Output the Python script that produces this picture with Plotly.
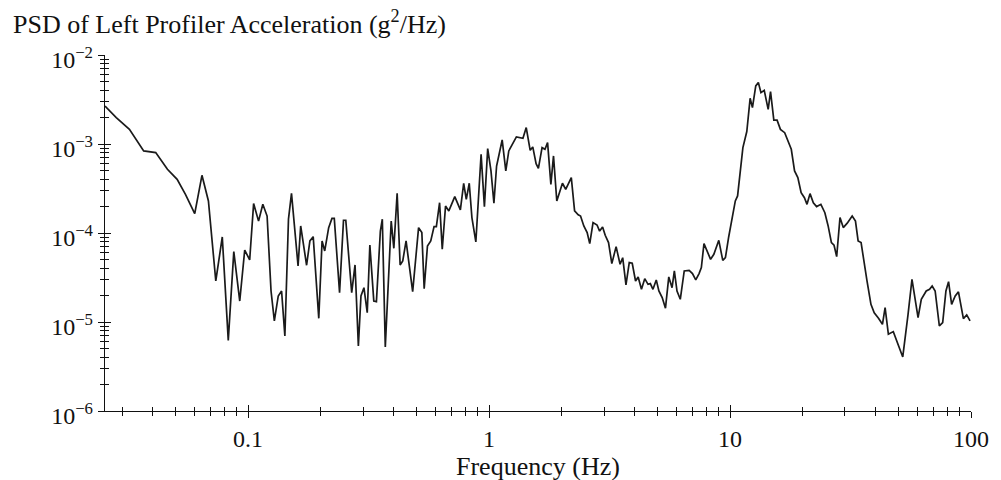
import math
import plotly.graph_objects as go

# ---- data ----
freq_hz = [
    0.0255, 0.0284, 0.0322, 0.0369, 0.0414, 0.0463, 0.0508, 0.0550, 0.0601, 0.0644,
    0.0685, 0.0735, 0.0782, 0.0828, 0.0873, 0.0924, 0.0969, 0.1016, 0.1055, 0.1106,
    0.1152, 0.1200, 0.1246, 0.1286, 0.1335, 0.1378, 0.1422, 0.1472, 0.1515, 0.1613,
    0.1654, 0.1750, 0.1806, 0.1864, 0.1966, 0.2029, 0.2081, 0.2161, 0.2230, 0.2280,
    0.2398, 0.2490, 0.2545, 0.2693, 0.2780, 0.2870, 0.2942, 0.3027, 0.3124, 0.3203,
    0.3326, 0.3410, 0.3541, 0.3608, 0.3712, 0.3928, 0.4028, 0.4157, 0.4278, 0.4386,
    0.4527, 0.4822, 0.5102, 0.5264, 0.5382, 0.5553, 0.5731, 0.5915, 0.6046, 0.6237,
    0.6397, 0.6601, 0.6812, 0.7210, 0.7606, 0.7851, 0.8048, 0.8279, 0.8492, 0.8817,
    0.9272, 0.9570, 0.9874, 1.019, 1.048, 1.075, 1.134, 1.174, 1.208, 1.299,
    1.383, 1.427, 1.482, 1.519, 1.568, 1.603, 1.660,
    1.707, 1.750, 1.806, 1.852, 1.911, 2.017, 2.081, 2.195, 2.265, 2.345,
    2.398, 2.474, 2.554, 2.618, 2.702, 2.807, 2.877, 2.960, 3.035, 3.133,
    3.233, 3.368, 3.498, 3.587, 3.701, 3.819, 3.929, 4.055, 4.158, 4.291,
    4.428, 4.569, 4.671, 4.789, 4.943, 5.069, 5.231, 5.398, 5.571, 5.749,
    5.876, 6.026, 6.218, 6.457, 6.769, 6.986, 7.209, 7.440, 7.605, 7.798,
    8.047, 8.306, 8.570, 8.985, 9.331, 9.570, 9.874, 10.19, 10.52, 10.75,
    11.02, 11.31, 11.74, 12.12, 12.39, 12.79, 13.11, 13.44, 13.87, 14.40,
    14.73, 15.20, 15.68, 16.19, 16.86, 17.40, 17.96, 18.53, 19.12, 19.73,
    20.36, 20.87, 21.48, 22.17, 22.87, 23.83, 24.75, 25.54, 26.35, 27.02,
    27.71, 28.60, 29.51, 30.65, 32.13, 33.16, 34.01, 34.99, 35.87, 37.02,
    38.44, 39.67, 41.32, 42.91, 44.01, 45.41, 47.60, 49.12, 52.1, 54.8,
    56.9, 60.3, 62.2, 65.2, 67.3, 69.0, 71.0, 73.9, 76.3, 78.7,
    80.7, 83.1, 86.0, 88.7, 93.0, 96.0, 99.1,
]

psd_g2_per_hz = [
    2.67e-3, 1.98e-3, 1.46e-3, 8.36e-4, 8.0e-4, 5.2e-4, 4.01e-4, 2.72e-4, 1.65e-4, 4.45e-4,
    2.29e-4, 2.89e-5, 9.02e-5, 6.22e-6, 6.18e-5, 1.72e-5, 6.44e-5, 4.98e-5, 2.14e-4, 1.36e-4,
    2.10e-4, 1.55e-4, 2.23e-5, 1.03e-5, 1.96e-5, 2.23e-5, 6.97e-6, 1.43e-4, 2.79e-4, 4.27e-5,
    1.20e-4, 4.34e-5, 8.14e-5, 9.1e-5, 1.10e-5, 8.14e-5, 6.28e-5, 1.15e-4, 1.46e-4, 1.46e-4,
    2.14e-5, 1.39e-4, 1.39e-4, 2.14e-5, 4.38e-5, 5.38e-6, 1.96e-5, 2.43e-5, 1.27e-5, 7.34e-5,
    1.72e-5, 1.69e-5, 1.05e-4, 1.43e-4, 5.24e-6, 1.36e-4, 6.73e-5, 2.79e-4, 4.38e-5, 4.85e-5,
    8.14e-5, 2.19e-5, 1.15e-4, 1.01e-4, 2.37e-5, 7.14e-5, 8.14e-5, 1.18e-4, 1.18e-4, 2.19e-4,
    6.56e-5, 2.01e-4, 1.77e-4, 2.56e-4, 1.82e-4, 3.62e-4, 2.39e-4, 3.62e-4, 1.49e-4, 7.93e-5,
    7.66e-4, 1.98e-4, 8.87e-4, 4.98e-4, 2.16e-4, 5.66e-4, 1.11e-3, 4.98e-4, 8.36e-4, 1.20e-3,
    1.16e-3, 1.53e-3, 8.49e-4, 9.27e-4, 6.02e-4, 5.33e-4, 9.1e-4,
    8.72e-4, 1.035e-3, 3.52e-4, 7.34e-4, 2.29e-4, 3.62e-4, 3.10e-4, 4.19e-4, 1.77e-4, 1.60e-4,
    1.55e-4, 1.20e-4, 1.01e-4, 7.6e-5, 1.31e-4, 1.23e-4, 1.05e-4, 1.17e-4, 9.42e-5, 7.8e-5,
    4.53e-5, 7.03e-5, 4.45e-5, 5.28e-5, 2.61e-5, 4.65e-5, 4.57e-5, 2.89e-5, 3.21e-5, 2.33e-5,
    3.07e-5, 2.65e-5, 2.70e-5, 2.33e-5, 2.97e-5, 2.23e-5, 1.88e-5, 1.43e-5, 3.21e-5, 2.43e-5,
    3.75e-5, 2.23e-5, 1.80e-5, 3.75e-5, 3.81e-5, 3.50e-5, 2.97e-5, 3.50e-5, 4.08e-5, 7.6e-5,
    6.28e-5, 5.06e-5, 5.77e-5, 8.28e-5, 4.93e-5, 5.28e-5, 9.02e-5, 1.49e-4, 2.29e-4, 2.61e-4,
    4.98e-4, 9.1e-4, 1.38e-3, 3.26e-3, 2.56e-3, 4.49e-3, 4.90e-3, 3.78e-3, 4.01e-3, 2.45e-3,
    3.87e-3, 1.85e-3, 1.85e-3, 1.46e-3, 1.34e-3, 1.08e-3, 8.72e-4, 4.98e-4, 4.19e-4, 2.84e-4,
    2.49e-4, 2.10e-4, 2.77e-4, 2.19e-4, 1.98e-4, 2.10e-4, 1.69e-4, 1.20e-4, 7.8e-5, 7.28e-5,
    5.43e-5, 1.49e-4, 1.15e-4, 1.29e-4, 1.55e-4, 1.36e-4, 8.14e-5, 7.8e-5, 5.28e-5, 2.89e-5,
    1.58e-5, 1.27e-5, 1.10e-5, 9.42e-6, 1.45e-5, 7.28e-6, 7.8e-6, 6.12e-6, 4.05e-6, 1.22e-5,
    3.02e-5, 1.12e-5, 1.80e-5, 2.23e-5, 2.33e-5, 2.54e-5, 2.23e-5, 9.03e-6, 9.84e-6, 2.23e-5,
    2.84e-5, 1.58e-5, 1.96e-5, 2.18e-5, 1.09e-5, 1.20e-5, 1.03e-5,
]

x_tick_vals = [0.1, 1, 10, 100]
x_tick_text = ["0.1", "1", "10", "100"]
y_tick_vals = [1e-6, 1e-5, 1e-4, 1e-3, 1e-2]
y_tick_text = ["10<sup>\u22126</sup>", "10<sup>\u22125</sup>", "10<sup>\u22124</sup>",
               "10<sup>\u22123</sup>", "10<sup>\u22122</sup>"]

title_text = "PSD of Left Profiler Acceleration (g<sup>2</sup>/Hz)"
x_title_text = "Frequency (Hz)"

x_min, x_max = 0.0255, 100
y_min, y_max = 1e-6, 1e-2

# minor tick positions (2..9 within each decade)
x_minor = [m * 10 ** e for e in range(-2, 2) for m in range(2, 10)
           if x_min <= m * 10 ** e <= x_max]
y_minor = [m * 10 ** e for e in range(-6, -2) for m in range(2, 10)]

FONT = "Liberation Serif"
INK = "#111111"

n = min(len(freq_hz), len(psd_g2_per_hz))
fx = freq_hz[:n]
fy = psd_g2_per_hz[:n]

fig = go.Figure()
fig.add_trace(go.Scatter(x=fx, y=fy, mode="lines",
                         line=dict(color="#1a1a1a", width=1.7),
                         showlegend=False, hoverinfo="x+y"))
# invisible twin on overlay axes (used only to draw the inner half of the ticks)
fig.add_trace(go.Scatter(x=fx, y=fy, mode="lines", xaxis="x2", yaxis="y2",
                         line=dict(color="rgba(0,0,0,0)", width=0.1),
                         showlegend=False, hoverinfo="skip"))

xr = [math.log10(x_min), math.log10(x_max)]
yr = [math.log10(y_min), math.log10(y_max)]

common_font = dict(family=FONT, size=24, color=INK)

fig.update_layout(
    width=1001, height=480,
    margin=dict(l=105, r=20, t=55, b=69),
    paper_bgcolor="white", plot_bgcolor="white",
    showlegend=False,
    title=dict(text=title_text, font=dict(family=FONT, size=26, color=INK),
               x=0.013, xanchor="left", xref="container",
               y=1 - 24 / 480, yanchor="middle", yref="container"),
    xaxis=dict(type="log", range=xr, tickmode="array", tickvals=x_tick_vals,
               ticktext=x_tick_text, ticks="outside", ticklen=6, tickwidth=1.3,
               tickcolor=INK, showline=True, linecolor=INK, linewidth=1.4,
               showgrid=False, zeroline=False, tickfont=common_font,
               minor=dict(tickmode="array", tickvals=x_minor, ticks="outside",
                          ticklen=4, tickwidth=1.2, tickcolor=INK, showgrid=False)),
    yaxis=dict(type="log", range=yr, tickmode="array", tickvals=y_tick_vals,
               ticktext=y_tick_text, ticks="outside", ticklen=6, tickwidth=1.3,
               tickcolor=INK, showline=True, linecolor=INK, linewidth=1.4,
               showgrid=False, zeroline=False, tickfont=common_font,
               ticklabelshift=5,
               minor=dict(tickmode="array", tickvals=y_minor, ticks="outside",
                          ticklen=4, tickwidth=1.2, tickcolor=INK, showgrid=False)),
    xaxis2=dict(type="log", range=xr, overlaying="x", anchor="y", side="bottom",
                tickmode="array", tickvals=x_tick_vals, ticks="inside", ticklen=6,
                tickwidth=1.3, tickcolor=INK, showticklabels=False, showline=False,
                showgrid=False, zeroline=False,
                minor=dict(tickmode="array", tickvals=x_minor, ticks="inside",
                           ticklen=4, tickwidth=1.2, tickcolor=INK, showgrid=False)),
    yaxis2=dict(type="log", range=yr, overlaying="y", anchor="x", side="left",
                tickmode="array", tickvals=y_tick_vals, ticks="inside", ticklen=6,
                tickwidth=1.3, tickcolor=INK, showticklabels=False, showline=False,
                showgrid=False, zeroline=False,
                minor=dict(tickmode="array", tickvals=y_minor, ticks="inside",
                           ticklen=4, tickwidth=1.2, tickcolor=INK, showgrid=False)),
    annotations=[dict(text=x_title_text, xref="paper", yref="paper", x=0.5, y=0,
                      xanchor="center", yanchor="middle", yshift=-55,
                      showarrow=False, font=dict(family=FONT, size=26, color=INK))],
)

fig.write_html("out.html")
